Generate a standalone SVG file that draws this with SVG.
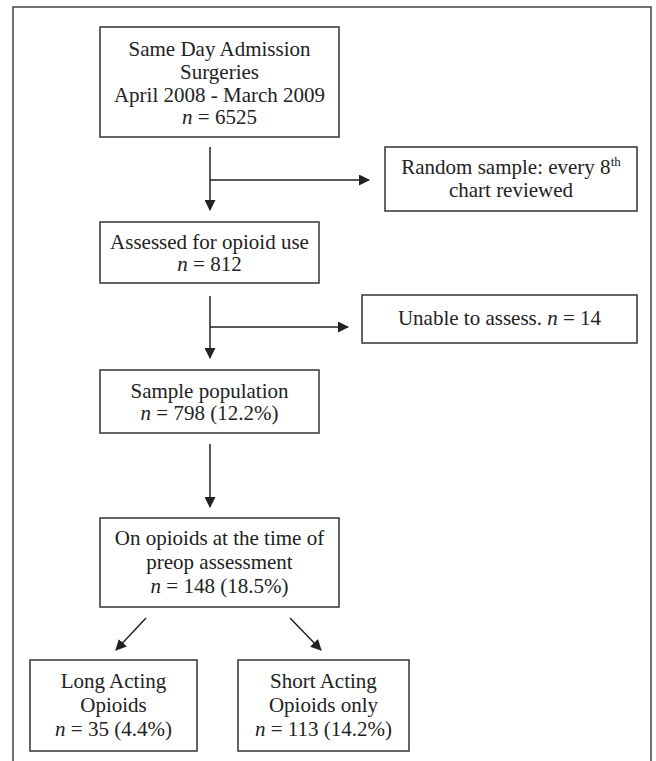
<svg xmlns="http://www.w3.org/2000/svg" width="656" height="761" viewBox="0 0 656 761">
<defs>
<style>
.box{fill:#fff;stroke:#333;stroke-width:1.5}
.t{font-family:"Liberation Serif","Times New Roman",serif;font-size:21px;fill:#222;text-anchor:middle}
.c{stroke:#222;stroke-width:1.5;fill:none}
</style>
<marker id="ah" markerWidth="11" markerHeight="11" refX="10" refY="5.5" orient="auto" markerUnits="userSpaceOnUse">
<path d="M0,0 L11,5.5 L0,11 Z" fill="#222"/>
</marker>
</defs>
<rect x="0" y="0" width="656" height="761" fill="#fff"/>
<path d="M13,762 V7 H651 V762" fill="none" stroke="#444" stroke-width="1.5"/>
<g id="n1">
<rect class="box" x="100" y="27" width="239" height="110"/>
<text class="t" x="219.5" y="56">Same Day Admission</text>
<text class="t" x="219.5" y="79">Surgeries</text>
<text class="t" x="219.5" y="102">April 2008 - March 2009</text>
<text class="t" x="219.5" y="124"><tspan font-style="italic">n</tspan> = 6525</text>
</g>
<g id="n2">
<rect class="box" x="385" y="147" width="252" height="64"/>
<text class="t" x="511" y="174">Random sample: every 8<tspan font-size="13" dy="-8">th</tspan></text>
<text class="t" x="511" y="197">chart reviewed</text>
</g>
<g id="n3">
<rect class="box" x="100" y="222" width="219" height="61"/>
<text class="t" x="209.5" y="249">Assessed for opioid use</text>
<text class="t" x="209.5" y="271"><tspan font-style="italic">n</tspan> = 812</text>
</g>
<g id="n4">
<rect class="box" x="362" y="295" width="275" height="48"/>
<text class="t" x="499.5" y="325">Unable to assess. <tspan font-style="italic">n</tspan> = 14</text>
</g>
<g id="n5">
<rect class="box" x="100" y="370" width="219" height="63"/>
<text class="t" x="209.5" y="398">Sample population</text>
<text class="t" x="209.5" y="420"><tspan font-style="italic">n</tspan> = 798 (12.2%)</text>
</g>
<g id="n6">
<rect class="box" x="100" y="518" width="239" height="89"/>
<text class="t" x="219.5" y="545">On opioids at the time of</text>
<text class="t" x="219.5" y="569">preop assessment</text>
<text class="t" x="219.5" y="593"><tspan font-style="italic">n</tspan> = 148 (18.5%)</text>
</g>
<g id="n7">
<rect class="box" x="30" y="660" width="167" height="91"/>
<text class="t" x="113.5" y="688">Long Acting</text>
<text class="t" x="113.5" y="712">Opioids</text>
<text class="t" x="113.5" y="736"><tspan font-style="italic">n</tspan> = 35 (4.4%)</text>
</g>
<g id="n8">
<rect class="box" x="238" y="660" width="171" height="91"/>
<text class="t" x="323.5" y="688">Short Acting</text>
<text class="t" x="323.5" y="712">Opioids only</text>
<text class="t" x="323.5" y="736"><tspan font-style="italic">n</tspan> = 113 (14.2%)</text>
</g>
<g id="connectors">
<line class="c" x1="210" y1="147" x2="210" y2="210" marker-end="url(#ah)"/>
<line class="c" x1="210" y1="180" x2="369" y2="180" marker-end="url(#ah)"/>
<line class="c" x1="210" y1="296" x2="210" y2="358" marker-end="url(#ah)"/>
<line class="c" x1="210" y1="327" x2="348" y2="327" marker-end="url(#ah)"/>
<line class="c" x1="210" y1="444" x2="210" y2="507" marker-end="url(#ah)"/>
<line class="c" x1="146" y1="618" x2="116" y2="650" marker-end="url(#ah)"/>
<line class="c" x1="290" y1="618" x2="321" y2="650" marker-end="url(#ah)"/>
</g>
</svg>
